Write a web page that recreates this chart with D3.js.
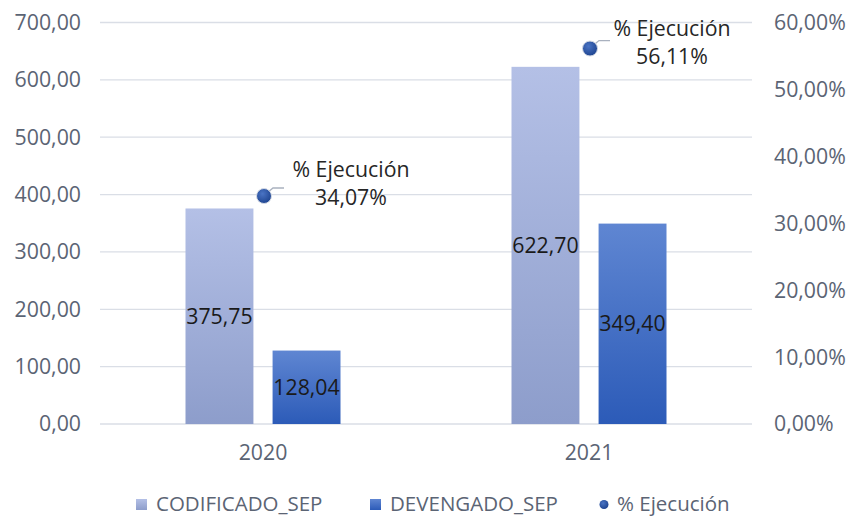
<!doctype html>
<html lang="es">
<head>
  <meta charset="utf-8">
  <title>Codificado vs Devengado</title>
  <script src="https://d3js.org/d3.v7.min.js"></script>
  <style>
    body { margin: 0; background: #fff; }
    text { font-family: "Open Sans", "Liberation Sans", sans-serif; }
  </style>
</head>
<body>
<svg id="chart" width="849" height="518"></svg>
<script>
  // data
  var years = ["2020", "2021"];
  var codificado = [375.75, 622.70];
  var devengado = [128.04, 349.40];
  var ejecucion = [34.07, 56.11];
  var leftTicks = [0, 100, 200, 300, 400, 500, 600, 700];
  var rightTicks = [0, 10, 20, 30, 40, 50, 60];
  var seriesNames = ["CODIFICADO_SEP", "DEVENGADO_SEP", "% Ejecución"];

  var svg = d3.select("#chart");
  var plotL = 100, plotR = 752, plotT = 22.5, plotB = 424;
  var fs = 21.3;
  // where excel dropped the % labels, relative to each marker
  var labelShift = [[87, -26], [82, -20]];

  var fmt = function(v) { return d3.format(".2f")(v).replace(".", ","); };

  var x = d3.scaleBand().domain(years).range([plotL, plotR]);
  var inner = d3.scaleBand().domain(["cod", "dev"]).range([0, 155]).paddingInner(0.22);
  var y = d3.scaleLinear().domain([0, 700]).range([plotB, plotT]);
  var y2 = d3.scaleLinear().domain([0, 60]).range([plotB, plotT]);

  var defs = svg.append("defs");
  var g1 = defs.append("linearGradient").attr("id", "gCod").attr("x1", 0).attr("y1", 0).attr("x2", 0).attr("y2", 1);
  g1.append("stop").attr("offset", "0%").attr("stop-color", "#b4c0e6");
  g1.append("stop").attr("offset", "100%").attr("stop-color", "#8d9dcb");
  var g2 = defs.append("linearGradient").attr("id", "gDev").attr("x1", 0).attr("y1", 0).attr("x2", 0).attr("y2", 1);
  g2.append("stop").attr("offset", "0%").attr("stop-color", "#5f86d2");
  g2.append("stop").attr("offset", "100%").attr("stop-color", "#2c5bb8");
  var g3 = defs.append("radialGradient").attr("id", "gDot").attr("cx", "40%").attr("cy", "35%").attr("r", "65%");
  g3.append("stop").attr("offset", "0%").attr("stop-color", "#4a74c4");
  g3.append("stop").attr("offset", "100%").attr("stop-color", "#1f4591");

  // gridlines
  svg.append("g").selectAll("line").data(leftTicks).enter().append("line")
    .attr("x1", plotL).attr("x2", plotR)
    .attr("y1", function(d) { return y(d); }).attr("y2", function(d) { return y(d); })
    .attr("stroke", "#dadee6").attr("stroke-width", 1.3);

  // left axis labels
  svg.append("g").selectAll("text").data(leftTicks).enter().append("text")
    .attr("x", 81).attr("y", function(d) { return y(d); })
    .attr("dy", "0.35em").attr("text-anchor", "end")
    .attr("font-size", fs).attr("fill", "#5b6474")
    .text(function(d) { return fmt(d); });

  // right axis labels
  svg.append("g").selectAll("text").data(rightTicks).enter().append("text")
    .attr("x", 774).attr("y", function(d) { return y2(d); })
    .attr("dy", "0.35em").attr("text-anchor", "start")
    .attr("font-size", fs).attr("fill", "#5b6474")
    .text(function(d) { return fmt(d) + "%"; });

  // bars
  var off = (x.bandwidth() - 155) / 2;
  years.forEach(function(yr, i) {
    var gx = x(yr) + off;
    var bars = [
      { key: "cod", v: codificado[i], fill: "url(#gCod)" },
      { key: "dev", v: devengado[i], fill: "url(#gDev)" }
    ];
    bars.forEach(function(b) {
      svg.append("rect")
        .attr("x", gx + inner(b.key)).attr("width", inner.bandwidth())
        .attr("y", y(b.v)).attr("height", y(0) - y(b.v))
        .attr("fill", b.fill);
      svg.append("text")
        .attr("x", gx + inner(b.key) + inner.bandwidth() / 2)
        .attr("y", (y(b.v) + y(0)) / 2).attr("dy", "0.35em")
        .attr("text-anchor", "middle").attr("font-size", fs).attr("fill", "#1a1a1a")
        .text(fmt(b.v));
    });
  });

  // x labels
  svg.append("g").selectAll("text").data(years).enter().append("text")
    .attr("x", function(d) { return x(d) + x.bandwidth() / 2; }).attr("y", 453)
    .attr("dy", "0.35em").attr("text-anchor", "middle")
    .attr("font-size", fs).attr("fill", "#5b6474")
    .text(function(d) { return d; });

  // % ejecucion markers with callouts
  years.forEach(function(yr, i) {
    var cx = x(yr) + x.bandwidth() / 2 + 1;
    var cy = y2(ejecucion[i]);
    var lx = cx + labelShift[i][0], ly = cy + labelShift[i][1];
    svg.append("path")
      .attr("d", "M" + (cx + 3) + "," + (cy - 3) + "L" + (cx + 9) + "," + (cy - 8) + "L" + (cx + 20) + "," + (cy - 8))
      .attr("fill", "none").attr("stroke", "#a9b1bf").attr("stroke-width", 1.3);
    svg.append("circle").attr("cx", cx).attr("cy", cy).attr("r", 7.5)
      .attr("fill", "url(#gDot)").attr("stroke", "#d6dbe5").attr("stroke-width", 1);
    var lab = svg.append("text").attr("text-anchor", "middle")
      .attr("font-size", fs).attr("fill", "#262626");
    lab.append("tspan").attr("x", lx).attr("y", ly).attr("dy", "0.35em").text("% Ejecución");
    lab.append("tspan").attr("x", lx).attr("y", ly + 28).attr("dy", "0.35em").text(fmt(ejecucion[i]) + "%");
  });

  // legend
  var legX = [136, 370, 600];
  var legY = 504;
  seriesNames.forEach(function(n, i) {
    if (i < 2) {
      svg.append("rect").attr("x", legX[i]).attr("y", legY - 5).attr("width", 11).attr("height", 11)
        .attr("fill", i == 0 ? "url(#gCod)" : "url(#gDev)");
    } else {
      svg.append("circle").attr("cx", legX[i] + 4).attr("cy", legY + 0.5).attr("r", 4.5).attr("fill", "url(#gDot)");
    }
    svg.append("text").attr("x", legX[i] + (i < 2 ? 20 : 17)).attr("y", legY).attr("dy", "0.35em")
      .attr("font-size", 20.5).attr("fill", "#5b6474").text(n);
  });
</script>
</body>
</html>
